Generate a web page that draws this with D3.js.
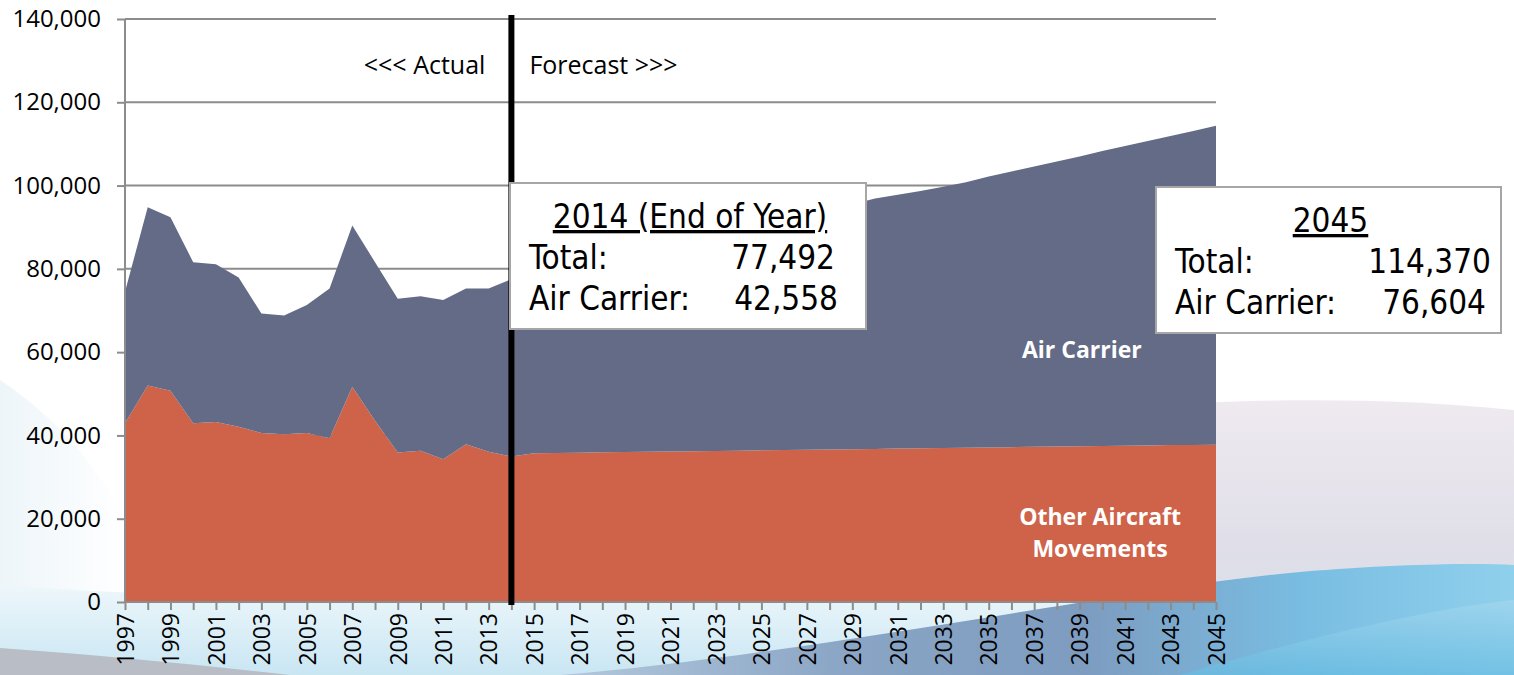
<!DOCTYPE html>
<html>
<head>
<meta charset="utf-8">
<script src="https://cdn.jsdelivr.net/npm/d3@7"></script>
<style>
  html, body { margin: 0; padding: 0; background: #fff; }
  svg { display: block; }
</style>
</head>
<body>
<div id="chart"></div>
<script>
// years on the x axis
const years = d3.range(1997, 2046);

// Other Aircraft Movements (bottom layer)
const otherAircraft = [
  42900, 52000, 50700, 42900, 43200, 42100, 40600, 40300, 40600, 39300,
  51700, 43500, 35900, 36300, 34300, 37900, 36100, 34934,
  35700, 35800, 35870, 35940, 36000, 36070, 36140, 36210, 36280, 36350,
  36420, 36490, 36560, 36630, 36700, 36770, 36840, 36910, 36980, 37050,
  37120, 37190, 37260, 37330, 37400, 37470, 37540, 37610, 37680, 37720, 37766
];

// Air Carrier (top layer)
const airCarrier = [
  31600, 42800, 41700, 38700, 37900, 35800, 28700, 28500, 30700, 36000,
  38700, 38100, 36900, 37100, 38200, 37400, 39200, 42558,
  43000, 44200, 45330, 46460, 47700, 48830, 49960, 51090, 52220, 53350,
  54480, 55610, 56740, 57770, 58800, 60130, 60960, 61790, 62720, 63750,
  65080, 66210, 67340, 68470, 69600, 70830, 71960, 73090, 74220, 75380, 76604
];

const yTicks = [0, 20000, 40000, 60000, 80000, 100000, 120000, 140000];
const xLabelYears = years.filter(d => (d - 1997) % 2 === 0);

const boxes = [
  {title: "2014 (End of Year)", total: "77,492", air: "42,558"},
  {title: "2045", total: "114,370", air: "76,604"}
];

const width = 1514, height = 675;
const marginLeft = 125, marginRight = 298, marginTop = 19, marginBottom = 73;

const table = years.map((yr, i) => ({year: yr, other: otherAircraft[i], air: airCarrier[i]}));

const xScale = d3.scaleLinear([1997, 2045], [marginLeft, width - marginRight]);
const yScale = d3.scaleLinear([0, 140000], [height - marginBottom, marginTop]);

const svg = d3.select("#chart").append("svg")
  .attr("width", width)
  .attr("height", height)
  .attr("viewBox", [0, 0, width, height]);

// ---- background swooshes ----
const defs = svg.append("defs");
const grad = (id, stops, x2 = 0, y2 = 1) => {
  const g = defs.append("linearGradient").attr("id", id)
    .attr("x1", 0).attr("y1", 0).attr("x2", x2).attr("y2", y2);
  stops.forEach(([o, c]) => g.append("stop").attr("offset", o).attr("stop-color", c));
};
grad("lav", [[0, "#efeaf0"], [0.55, "#dfdee8"], [1, "#d3e2ee"]]);
grad("leftfade", [[0, "#edf5f9"], [1, "#ffffff"]], 1, 0);
grad("lightblue", [[0, "#eef7fb"], [1, "#c9e6f3"]]);
grad("swoosh", [[0, "#b3c8dc"], [0.3, "#8aa5c5"], [0.55, "#7d9cc0"], [0.78, "#79bde2"], [1, "#8fd0ec"]], 1, 0);
grad("deep", [[0, "#a4d6ed"], [1, "#66bce2"]]);

const bg = svg.append("g");
bg.append("path").attr("fill", "url(#leftfade)")
  .attr("d", "M0,380 C60,420 100,470 125,520 L125,675 L0,675 Z");
bg.append("path").attr("fill", "url(#lav)")
  .attr("d", "M1100,410 C1230,398 1380,396 1514,410 L1514,675 L1100,675 Z");
bg.append("path").attr("fill", "url(#lightblue)")
  .attr("d", "M0,585 C200,600 500,605 800,602 C1000,600 1150,595 1216,590 L1216,675 L0,675 Z");
bg.append("path").attr("fill", "url(#swoosh)")
  .attr("d", "M560,675 C720,662 920,628 1077,603 C1160,590 1216,580 1300,572 C1400,564 1470,563 1514,565 L1514,675 Z");
bg.append("path").attr("fill", "url(#deep)").attr("opacity", 0.7)
  .attr("d", "M1180,675 C1300,640 1420,610 1514,600 L1514,675 Z");
bg.append("path").attr("fill", "#b9bdc6")
  .attr("d", "M0,648 C100,655 200,665 290,675 L0,675 Z");

// plot area
svg.append("rect")
  .attr("x", marginLeft).attr("y", marginTop)
  .attr("width", xScale(2045) - marginLeft)
  .attr("height", yScale(0) - marginTop)
  .attr("fill", "#fff");

// gridlines
svg.append("g")
  .selectAll("line")
  .data(yTicks.filter(d => d > 0))
  .join("line")
  .attr("x1", marginLeft).attr("x2", xScale(2045))
  .attr("y1", d => yScale(d)).attr("y2", d => yScale(d))
  .attr("stroke", "#8c8c8c").attr("stroke-width", 2);

// stacked areas
const series = d3.stack().keys(["other", "air"])(table);
const colors = {other: "#cf634a", air: "#636b86"};
const area = d3.area()
  .x(d => xScale(d.data.year))
  .y0(d => yScale(d[0]))
  .y1(d => yScale(d[1]));

svg.append("g")
  .selectAll("path")
  .data(series)
  .join("path")
  .attr("fill", d => colors[d.key])
  .attr("d", area);

// y axis
svg.append("g")
  .attr("transform", `translate(${marginLeft},0)`)
  .call(d3.axisLeft(yScale).tickValues(yTicks).tickSize(8).tickPadding(16).tickFormat(d3.format(",")))
  .call(g => g.selectAll("path, line").attr("stroke", "#8c8c8c").attr("stroke-width", 2))
  .call(g => g.select(".domain").attr("d", `M0,${yScale(0)}V${yScale(140000)}`))
  .call(g => g.selectAll("text")
    .attr("fill", "#000")
    .attr("font-family", "'Open Sans', sans-serif")
    .attr("font-size", 24));

// x axis
svg.append("g")
  .attr("transform", `translate(0,${yScale(0)})`)
  .call(d3.axisBottom(xScale).tickValues(years).tickSize(8)
    .tickFormat(d => xLabelYears.includes(d) ? String(d) : ""))
  .call(g => g.selectAll("path, line").attr("stroke", "#8c8c8c").attr("stroke-width", 2))
  .call(g => g.select(".domain").attr("d", `M${marginLeft},0H${xScale(2045)}`))
  .call(g => g.selectAll("text")
    .attr("fill", "#000")
    .attr("font-family", "'Open Sans', sans-serif")
    .attr("font-size", 23)
    .attr("text-anchor", "end")
    .attr("transform", "rotate(-90)")
    .attr("x", -11)
    .attr("y", 0)
    .attr("dy", "0.36em"));

// actual / forecast divider
const xDiv = xScale(2014);
svg.append("line")
  .attr("x1", xDiv).attr("x2", xDiv)
  .attr("y1", 15).attr("y2", yScale(0) + 3)
  .attr("stroke", "#000").attr("stroke-width", 6);

const note = svg.append("g")
  .attr("font-family", "'Open Sans', sans-serif")
  .attr("font-size", 25)
  .attr("fill", "#000");
note.append("text").attr("x", xDiv - 26).attr("y", 74).attr("text-anchor", "end").text("<<< Actual");
note.append("text").attr("x", xDiv + 18).attr("y", 74).text("Forecast >>>");

// series labels
const lab = svg.append("g")
  .attr("font-family", "'Open Sans', sans-serif")
  .attr("font-weight", "bold")
  .attr("font-size", 23)
  .attr("fill", "#fff")
  .attr("text-anchor", "middle");
lab.append("text").attr("x", xScale(2039.1)).attr("y", 358).text("Air Carrier");
lab.append("text").attr("x", xScale(2039.9)).attr("y", 525).text("Other Aircraft");
lab.append("text").attr("x", xScale(2039.9)).attr("y", 557).text("Movements");

// callout boxes
const boxPos = [
  {x: 510, y: 183, w: 356, h: 146},
  {x: 1156, y: 187, w: 345, h: 146}
];
const font = "'DejaVu Sans Condensed', 'DejaVu Sans', sans-serif";
boxes.forEach((b, i) => {
  const p = boxPos[i];
  const g = svg.append("g").attr("font-family", font).attr("font-size", 33).attr("fill", "#000");
  g.append("rect")
    .attr("x", p.x).attr("y", p.y).attr("width", p.w).attr("height", p.h)
    .attr("fill", "#fff").attr("stroke", "#a6a6a6").attr("stroke-width", 2);
  g.append("text")
    .attr("x", p.x + p.w / 2 + 2).attr("y", p.y + 45)
    .attr("text-anchor", "middle")
    .attr("text-decoration", "underline")
    .text(b.title);
  g.append("text").attr("x", p.x + 19).attr("y", p.y + 86).text("Total:");
  g.append("text").attr("x", p.x + p.w - (i === 0 ? 31 : 10)).attr("y", p.y + 86)
    .attr("text-anchor", "end").text(b.total);
  g.append("text").attr("x", p.x + 19).attr("y", p.y + 127).text("Air Carrier:");
  g.append("text").attr("x", p.x + p.w - (i === 0 ? 28 : 15)).attr("y", p.y + 127)
    .attr("text-anchor", "end").text(b.air);
});
</script>
</body>
</html>
